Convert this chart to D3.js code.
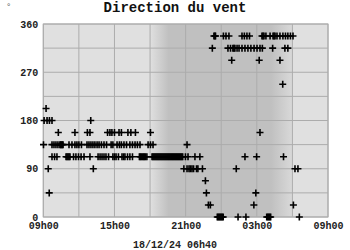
<!DOCTYPE html>
<html>
<head>
<meta charset="utf-8">
<script src="https://cdn.jsdelivr.net/npm/d3@7"></script>
<style>
  body { margin: 0; background: white; }
  text { font-family: "Liberation Mono", "DejaVu Sans Mono", monospace; }
</style>
</head>
<body>
<svg id="chart" width="350" height="250"></svg>
<script>
// releves : minutes apres 17/12/24 09h00, une liste par direction (degres)
var dir0    = [880, 885, 890, 895, 900, 905, 910, 985, 1025, 1130, 1135, 1140, 1145, 1150, 1295];
var dir22   = [835, 845, 1065, 1265];
var dir45   = [30, 825, 1075];
var dir67   = [820];
var dir90   = [25, 253, 711, 727, 737, 744, 752, 760, 775, 782, 805, 976, 1273, 1288];
var dir112  = [44, 57, 69, 115, 120, 125, 130, 135, 153, 165, 178, 191, 206, 236, 277, 287, 297,
               307, 317, 330, 352, 360, 368, 380, 398, 406, 413, 426, 438, 451, 486, 491, 496,
               502, 507, 512, 517, 524, 550, 555, 560, 565, 570, 575, 580, 585, 590, 595, 600,
               605, 610, 615, 620, 625, 630, 635, 640, 645, 650, 655, 660, 665, 670, 675, 680,
               685, 690, 695, 700, 705, 719, 732, 767, 792, 1020, 1079, 1215];
var dir135  = [1, 44, 54, 64, 74, 84, 88, 92, 96, 100, 130, 145, 160, 170, 180, 193, 221, 231,
               241, 251, 261, 272, 282, 294, 307, 320, 343, 352, 373, 385, 395, 408, 421, 438,
               451, 464, 476, 489, 530, 542, 555, 727];
var dir157  = [76, 160, 223, 236, 325, 337, 347, 360, 383, 395, 428, 443, 466, 542, 1096];
var dir180  = [4, 19, 31, 44, 240];
var dir202  = [14];
var dir247  = [1211];
var dir292  = [953, 1092, 1197];
var dir315  = [855, 934, 947, 959, 964, 969, 980, 990, 1005, 1020, 1035, 1050, 1066, 1081, 1096,
               1108, 1160, 1222, 1237];
var dir337  = [863, 868, 871, 911, 924, 939, 1005, 1017, 1030, 1043, 1106, 1111, 1116, 1126,
               1147, 1162, 1167, 1172, 1182, 1197, 1212, 1225, 1237, 1250, 1263];

var yTicks = [0, 90, 180, 270, 360];
var xTickHours = [0, 6, 12, 18, 24];   // heures apres le debut
var titre = 'Direction du vent';
var dateLabel = '18/12/24 06h40';

var series = [
    [0, dir0], [22.5, dir22], [45, dir45], [67.5, dir67], [90, dir90], [112.5, dir112],
    [135, dir135], [157.5, dir157], [180, dir180], [202.5, dir202], [247.5, dir247],
    [292.5, dir292], [315, dir315], [337.5, dir337]
];

var start = new Date(2024, 11, 17, 9, 0),
    end = new Date(2024, 11, 18, 9, 0);

var points = [];
series.forEach(function(s) {
    s[1].forEach(function(m) {
        points.push({ t: d3.timeMinute.offset(start, m), d: s[0] });
    });
});

var svg = d3.select('#chart'),
    pLeft = 43.3, pRight = 328, pTop = 24, pBottom = 217;

var x = d3.scaleTime().domain([start, end]).range([pLeft, pRight]),
    y = d3.scaleLinear().domain([0, 360]).range([pBottom, pTop]);

// fond nuit / jour
var grad = svg.append('defs').append('linearGradient')
    .attr('id', 'nuit')
    .attr('gradientUnits', 'userSpaceOnUse')
    .attr('x1', pLeft).attr('x2', pRight).attr('y1', 0).attr('y2', 0);
[[0, '#e0e0e0'], [0.375, '#e0e0e0'], [0.44, '#c0c0c0'], [0.80, '#c0c0c0'],
 [0.872, '#d8d8d8'], [0.873, '#e0e0e0'], [1, '#e0e0e0']].forEach(function(s) {
    grad.append('stop').attr('offset', s[0]).attr('stop-color', s[1]);
});

svg.append('rect')
    .attr('x', pLeft).attr('y', pTop)
    .attr('width', pRight - pLeft).attr('height', pBottom - pTop)
    .attr('fill', 'url(#nuit)');

// grille
svg.append('g')
    .selectAll('line')
    .data(d3.timeHour.every(3).range(start, d3.timeMinute.offset(end, 1)))
    .enter().append('line')
    .attr('x1', function(d){ return x(d); })
    .attr('x2', function(d){ return x(d); })
    .attr('y1', pTop).attr('y2', pBottom)
    .attr('stroke', '#acacac').attr('stroke-width', 1);

svg.append('g')
    .selectAll('line')
    .data(d3.range(0, 361, 45))
    .enter().append('line')
    .attr('x1', pLeft).attr('x2', pRight)
    .attr('y1', function(d){ return y(d); })
    .attr('y2', function(d){ return y(d); })
    .attr('stroke', '#acacac').attr('stroke-width', 1);

svg.append('rect')
    .attr('x', pLeft).attr('y', pTop)
    .attr('width', pRight - pLeft).attr('height', pBottom - pTop)
    .attr('fill', 'none').attr('stroke', '#acacac');

// axes
var yAxis = d3.axisLeft(y).tickValues(yTicks).tickSize(0).tickPadding(5);
svg.append('g')
    .attr('transform', 'translate(' + pLeft + ',0)')
    .call(yAxis)
    .call(function(g){ g.select('.domain').remove(); })
    .selectAll('text')
    .attr('font-family', '"Liberation Mono", monospace')
    .attr('font-weight', 'bold')
    .attr('font-size', 10)
    .attr('fill', '#222');

var xAxis = d3.axisBottom(x)
    .tickValues(xTickHours.map(function(h){ return d3.timeHour.offset(start, h); }))
    .tickFormat(d3.timeFormat('%Hh%M'))
    .tickSize(0).tickPadding(5);
svg.append('g')
    .attr('transform', 'translate(0,' + pBottom + ')')
    .call(xAxis)
    .call(function(g){ g.select('.domain').remove(); })
    .selectAll('text')
    .attr('font-family', '"Liberation Mono", monospace')
    .attr('font-weight', 'bold')
    .attr('font-size', 10)
    .attr('fill', '#222');

// points
svg.append('g')
    .selectAll('path')
    .data(points)
    .enter().append('path')
    .attr('transform', function(d){ return 'translate(' + x(d.t) + ',' + y(d.d) + ')'; })
    .attr('d', 'M-3.5,0H3.5M0,-3.5V3.5')
    .attr('stroke', 'black')
    .attr('stroke-width', 1.6)
    .attr('fill', 'none');

// textes
svg.append('text')
    .attr('x', 175).attr('y', 12)
    .attr('text-anchor', 'middle')
    .attr('font-weight', 'bold')
    .attr('font-size', 14)
    .attr('fill', '#111')
    .text(titre);

svg.append('text')
    .attr('x', 175).attr('y', 248)
    .attr('text-anchor', 'middle')
    .attr('font-weight', 'bold')
    .attr('font-size', 10)
    .attr('fill', '#222')
    .text(dateLabel);

svg.append('text')
    .attr('x', 6).attr('y', 9)
    .attr('font-size', 9)
    .attr('fill', '#555')
    .text('°');
</script>
</body>
</html>
